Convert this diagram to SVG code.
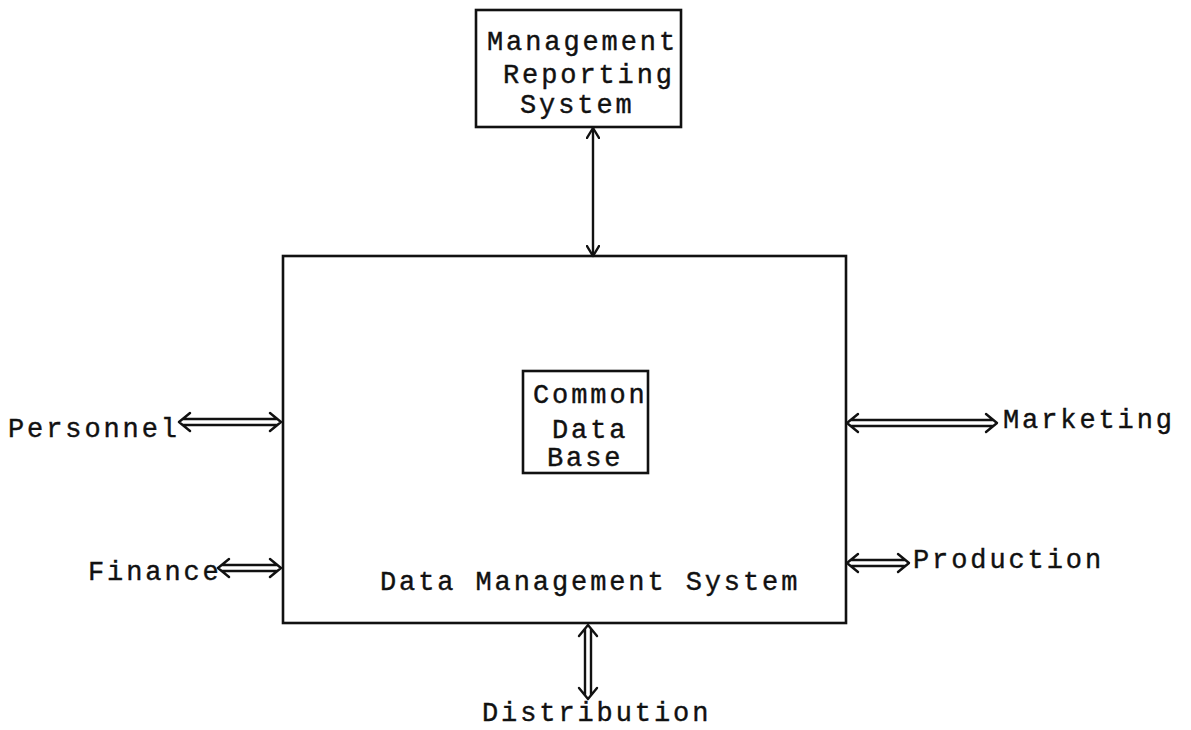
<svg xmlns="http://www.w3.org/2000/svg" width="1191" height="730" viewBox="0 0 1191 730">
<style>
.t{font-family:"Liberation Mono","DejaVu Sans Mono",monospace;font-size:27px;letter-spacing:2.9px;fill:#111;stroke:#111;stroke-width:0.4}
.b{fill:none;stroke:#111;stroke-width:2.6}
.a{fill:none;stroke:#111;stroke-width:2.4;stroke-linecap:round;stroke-linejoin:round}
</style>
<defs>
<marker id="ch" viewBox="0 0 12 14" refX="11" refY="7" markerWidth="12" markerHeight="14" markerUnits="userSpaceOnUse" orient="auto-start-reverse">
<path d="M1,1 L11,7 L1,13" fill="none" stroke="#111" stroke-width="2.4" stroke-linecap="round" stroke-linejoin="round"/>
</marker>
</defs>
<rect width="1191" height="730" fill="#fff"/>
<g id="mrs">
<rect class="b" x="476" y="10" width="205" height="117"/>
<text class="t" x="487" y="50">Management</text>
<text class="t" x="503" y="83">Reporting</text>
<text class="t" x="520" y="113">System</text>
</g>
<g id="dms">
<rect class="b" x="283" y="256" width="563" height="367"/>
<text class="t" x="380" y="590">Data Management System</text>
</g>
<g id="cdb">
<rect class="b" x="523" y="371" width="125" height="102"/>
<text class="t" x="533" y="403">Common</text>
<text class="t" x="552" y="438">Data</text>
<text class="t" x="547" y="466">Base</text>
</g>
<g id="personnel"><text class="t" x="8" y="437">Personnel</text></g>
<g id="finance"><text class="t" x="88" y="580">Finance</text></g>
<g id="marketing"><text class="t" x="1003" y="428">Marketing</text></g>
<g id="production"><text class="t" x="913" y="568">Production</text></g>
<g id="distribution"><text class="t" x="482" y="721">Distribution</text></g>
<g id="connectors">
<line class="a" x1="593" y1="128" x2="593" y2="256" marker-start="url(#ch)" marker-end="url(#ch)"/>
<path class="a" d="M183,419 L277,419 M183,425 L277,425 M190,413 L179,422 L190,431 M270,413 L281,422 L270,431"/>
<path class="a" d="M222,565 L277,565 M222,571 L277,571 M229,559 L218,568 L229,577 M270,559 L281,568 L270,577"/>
<path class="a" d="M851,420 L993,420 M851,426 L993,426 M858,414 L847,423 L858,432 M986,414 L997,423 L986,432"/>
<path class="a" d="M851,560 L905,560 M851,566 L905,566 M858,554 L847,563 L858,572 M898,554 L909,563 L898,572"/>
<path class="a" d="M585,629 L585,695 M591,629 L591,695 M579,636 L588,625 L597,636 M579,688 L588,699 L597,688"/>
</g>
</svg>
